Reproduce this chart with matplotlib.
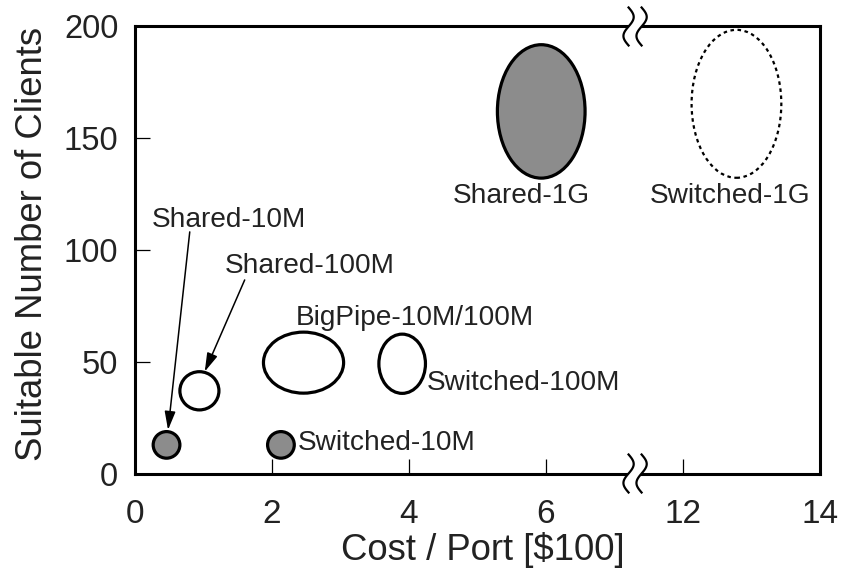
import numpy as np
import matplotlib
matplotlib.use("Agg")
import matplotlib.pyplot as plt
from matplotlib.patches import Ellipse

plt.rcParams["font.family"] = ["Liberation Sans", "DejaVu Sans"]

# Configurations, cost per port in $100 and the number of clients each suits
names = ["Shared-10M", "Switched-10M", "Shared-100M", "BigPipe-10M/100M",
         "Switched-100M", "Shared-1G", "Switched-1G"]
cost = [0.46, 2.13, 0.94, 2.46, 3.90, 5.93, 12.78]
clients = [12.8, 12.8, 37.0, 49.6, 49.1, 162.0, 165.4]
# spread of each blob (cost range, client range)
cost_span = [0.39, 0.39, 0.57, 1.17, 0.68, 1.28, 1.31]
client_span = [11.9, 11.9, 17.1, 27.3, 26.5, 59.7, 66.2]

x_ticks = [0, 2, 4, 6, 12, 14]
y_ticks = [0, 50, 100, 150, 200]

# the x axis is broken between 6 and 12: everything above 6 is moved left by 4
BREAK_LO, BREAK_HI = 6, 10


def bx(x):
    return x if x <= BREAK_LO else x - (BREAK_HI - BREAK_LO)


fig = plt.figure(figsize=(8.46, 5.72), dpi=100)
ax = fig.add_axes([0.1596, 0.1722, 0.8097, 0.7815])

fill = {"Shared-10M": "#8c8c8c", "Switched-10M": "#8c8c8c", "Shared-1G": "#8c8c8c"}
for i, name in enumerate(names):
    dashed = name == "Switched-1G"
    e = Ellipse((bx(cost[i]), clients[i]), cost_span[i], client_span[i],
                facecolor=fill.get(name, "none"), edgecolor="black",
                lw=1.6 if dashed else 2.3,
                linestyle=(0, (1.6, 1.6)) if dashed else "-", zorder=3)
    ax.add_patch(e)

# labels
fs = 20.2
tc = "#222222"
ax.text(bx(1.368), 110.5, "Shared-10M", ha="center", va="baseline", fontsize=fs, color=tc)
ax.text(bx(2.55), 89.6, "Shared-100M", ha="center", va="baseline", fontsize=fs, color=tc)
ax.text(bx(4.083), 66.5, "BigPipe-10M/100M", ha="center", va="baseline", fontsize=fs, color=tc)
ax.text(bx(4.254), 37.4, "Switched-100M", ha="left", va="baseline", fontsize=fs, color=tc)
ax.text(bx(2.375), 10.5, "Switched-10M", ha="left", va="baseline", fontsize=fs, color=tc)
ax.text(bx(5.641), 121.0, "Shared-1G", ha="center", va="baseline", fontsize=fs, color=tc)
ax.text(bx(12.689), 121.0, "Switched-1G", ha="center", va="baseline", fontsize=fs, color=tc)

# arrows pointing from the two labels to the small blobs
arrow = dict(arrowstyle="-|>,head_length=0.75,head_width=0.22", mutation_scale=15,
             lw=1.1, color="black", shrinkA=0, shrinkB=0)
ax.annotate("", xy=(bx(0.482), 19.5), xytext=(bx(0.799), 108.1), arrowprops=arrow)
ax.annotate("", xy=(bx(1.018), 45.6), xytext=(bx(1.601), 86.6), arrowprops=arrow)

ax.set_xlim(0, 10)
ax.set_ylim(0, 200)
ax.set_xticks([bx(t) for t in x_ticks])
ax.set_xticklabels([str(t) for t in x_ticks])
ax.set_yticks(y_ticks)
ax.tick_params(axis="both", direction="in", length=10.8, width=0.9,
               top=False, right=False, labelcolor=tc)
ax.tick_params(axis="x", labelsize=24, pad=18)
ax.tick_params(axis="y", labelsize=23.5, pad=12)
for sp in ax.spines.values():
    sp.set_linewidth(2.2)

ax.set_xlabel("Cost / Port [$100]", fontsize=26.3, color=tc)
ax.set_ylabel("Suitable Number of Clients", fontsize=26.3, color=tc)
ax.xaxis.set_label_coords(0.507, -0.131)
ax.yaxis.set_label_coords(-0.124, 0.513)

# break marks on top and bottom spines: two wavy strokes with a white gap
xc = 7.3
dx = 0.095
amp = 0.075
half = 0.0425
t = np.linspace(-1, 1, 60)
for y0 in (0, 1):
    ys = y0 + t * half
    left = xc - dx + amp * np.sin(np.pi * t)
    right = xc + dx + amp * np.sin(np.pi * t)
    trans = ax.get_xaxis_transform()
    ax.fill(np.concatenate([left, right[::-1]]), np.concatenate([ys, ys[::-1]]),
            color="white", transform=trans, clip_on=False, zorder=5, lw=0)
    ax.plot(left, ys, color="black", lw=1.6, transform=trans, clip_on=False, zorder=6)
    ax.plot(right, ys, color="black", lw=1.6, transform=trans, clip_on=False, zorder=6)

fig.savefig("out.png", dpi=100)
